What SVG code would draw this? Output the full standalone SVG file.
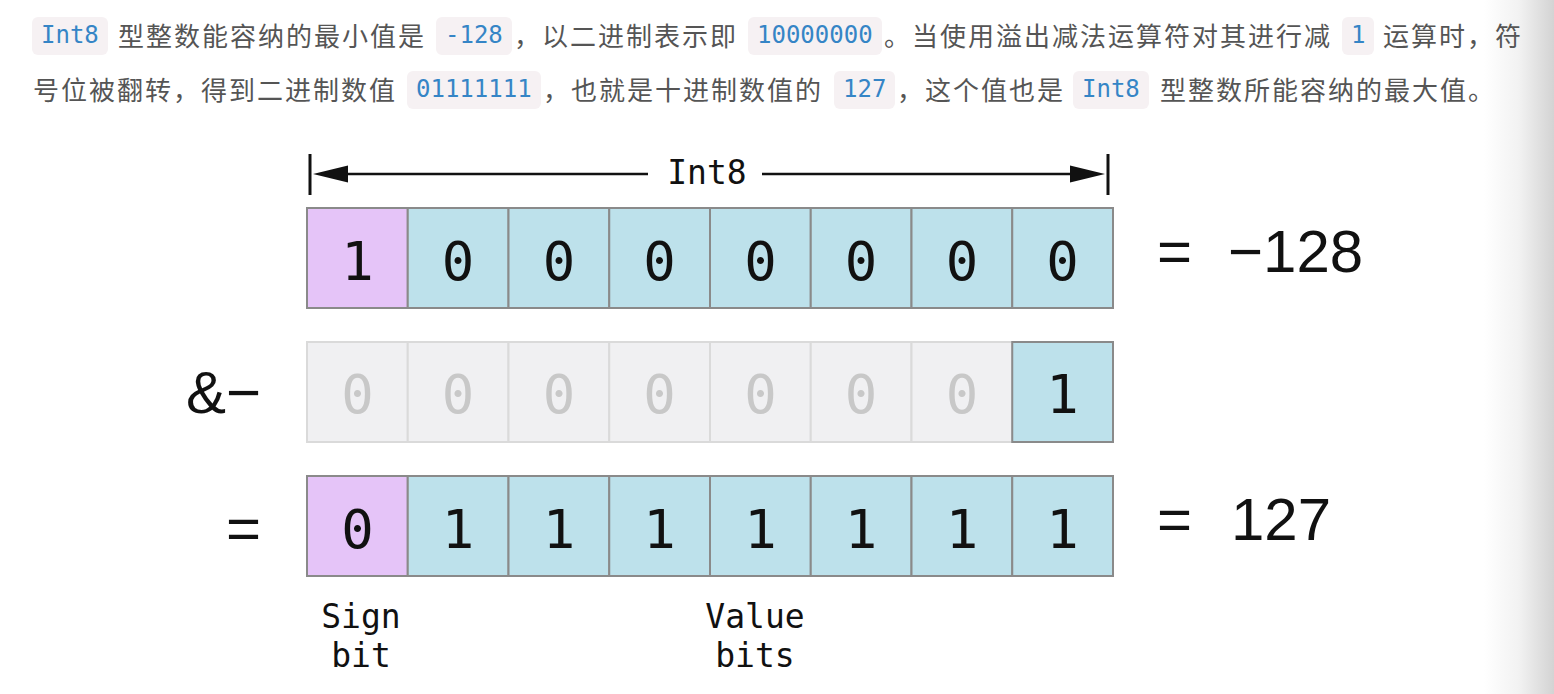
<svg xmlns="http://www.w3.org/2000/svg" width="1554" height="694" viewBox="0 0 1554 694">
<defs>
<style>
.cn{font-family:"Noto Sans CJK SC","Noto Sans",sans-serif;font-size:26px;letter-spacing:2px;fill:#555555}
.pill{fill:#f6f1f3}
.code{font-family:"DejaVu Sans Mono",monospace;font-size:24px;fill:#3585c6}
.mono{font-family:"DejaVu Sans Mono",monospace;fill:#111}
.dig{font-family:"DejaVu Sans Mono",monospace;font-size:54px;text-anchor:middle;fill:#111}
.dig.g{fill:#c8c8c8}
.sans{font-family:"Liberation Sans","Arial",sans-serif;font-size:60px;fill:#111}
.sb{fill:#e5c4f8;stroke:#8a8a8a;stroke-width:2}
.vb{fill:#bde1eb;stroke:#8a8a8a;stroke-width:2}
.gb{fill:#f0f0f2;stroke:#dadada;stroke-width:2}
.lbl{font-family:"DejaVu Sans Mono",monospace;font-size:33px;text-anchor:middle;fill:#111}
</style>
<linearGradient id="edge" x1="0" y1="0" x2="1" y2="0">
<stop offset="0" stop-color="#ffffff"/>
<stop offset="0.5" stop-color="#f2f2f2"/>
<stop offset="1" stop-color="#d3d3d3"/>
</linearGradient>
</defs>
<rect x="0" y="0" width="1554" height="694" fill="#ffffff"/>
<rect x="1484" y="0" width="70" height="694" fill="url(#edge)"/>

<g id="paragraph">
<rect class="pill" x="32" y="17" width="76" height="38" rx="6"/>
<text class="code" x="41" y="43">Int8</text>
<text class="cn" x="118" y="46">型整数能容纳的最小值是</text>
<rect class="pill" x="436" y="17" width="76" height="38" rx="6"/>
<text class="code" x="445" y="43">-128</text>
<text class="cn" x="514" y="46">，以二进制表示即</text>
<rect class="pill" x="748" y="17" width="134" height="38" rx="6"/>
<text class="code" x="757" y="43">10000000</text>
<text class="cn" x="884" y="46">。当使用溢出减法运算符对其进行减</text>
<rect class="pill" x="1342" y="17" width="32" height="38" rx="6"/>
<text class="code" x="1351" y="43">1</text>
<text class="cn" x="1383" y="46">运算时，符</text>

<text class="cn" x="33" y="100">号位被翻转，得到二进制数值</text>
<rect class="pill" x="407" y="71" width="134" height="38" rx="6"/>
<text class="code" x="416" y="97">01111111</text>
<text class="cn" x="543" y="100">，也就是十进制数值的</text>
<rect class="pill" x="834" y="71" width="61" height="38" rx="6"/>
<text class="code" x="843" y="97">127</text>
<text class="cn" x="897" y="100">，这个值也是</text>
<rect class="pill" x="1073" y="71" width="76" height="38" rx="6"/>
<text class="code" x="1082" y="97">Int8</text>
<text class="cn" x="1160" y="100">型整数所能容纳的最大值。</text>
</g>

<g id="connectors" stroke="#111" stroke-width="2.5" fill="none">
<line x1="310" y1="154" x2="310" y2="195" stroke-width="3"/>
<line x1="1108" y1="154" x2="1108" y2="195" stroke-width="3"/>
<line x1="340" y1="174" x2="648" y2="174"/>
<line x1="762" y1="174" x2="1075" y2="174"/>
<polygon points="313,174 348,165.5 348,182.5" fill="#111" stroke="none"/>
<polygon points="1105,174 1070,165.5 1070,182.5" fill="#111" stroke="none"/>
</g>
<g id="int8-label">
<text class="mono" x="707" y="184" font-size="33" text-anchor="middle">Int8</text>
</g>

<g id="row-minus128">
<rect class="sb" x="307" y="208" width="100.75" height="100"/>
<rect class="vb" x="407.75" y="208" width="100.75" height="100"/>
<rect class="vb" x="508.5" y="208" width="100.75" height="100"/>
<rect class="vb" x="609.25" y="208" width="100.75" height="100"/>
<rect class="vb" x="710" y="208" width="100.75" height="100"/>
<rect class="vb" x="810.75" y="208" width="100.75" height="100"/>
<rect class="vb" x="911.5" y="208" width="100.75" height="100"/>
<rect class="vb" x="1012.25" y="208" width="100.75" height="100"/>
<text class="dig" x="357.4" y="280">1</text>
<text class="dig" x="458.1" y="280">0</text>
<text class="dig" x="558.9" y="280">0</text>
<text class="dig" x="659.6" y="280">0</text>
<text class="dig" x="760.4" y="280">0</text>
<text class="dig" x="861.1" y="280">0</text>
<text class="dig" x="961.9" y="280">0</text>
<text class="dig" x="1062.6" y="280">0</text>
<text class="sans" x="1157" y="272">=</text>
<text class="sans" x="1228" y="272">−128</text>
</g>

<g id="row-one">
<text class="sans" x="186" y="413">&amp;−</text>
<rect class="gb" x="307" y="342" width="100.75" height="100"/>
<rect class="gb" x="407.75" y="342" width="100.75" height="100"/>
<rect class="gb" x="508.5" y="342" width="100.75" height="100"/>
<rect class="gb" x="609.25" y="342" width="100.75" height="100"/>
<rect class="gb" x="710" y="342" width="100.75" height="100"/>
<rect class="gb" x="810.75" y="342" width="100.75" height="100"/>
<rect class="gb" x="911.5" y="342" width="100.75" height="100"/>
<rect class="vb" x="1012.25" y="342" width="100.75" height="100"/>
<text class="dig g" x="357.4" y="413">0</text>
<text class="dig g" x="458.1" y="413">0</text>
<text class="dig g" x="558.9" y="413">0</text>
<text class="dig g" x="659.6" y="413">0</text>
<text class="dig g" x="760.4" y="413">0</text>
<text class="dig g" x="861.1" y="413">0</text>
<text class="dig g" x="961.9" y="413">0</text>
<text class="dig" x="1062.6" y="413">1</text>
</g>

<g id="row-127">
<text class="sans" x="226" y="549">=</text>
<rect class="sb" x="307" y="476" width="100.75" height="100"/>
<rect class="vb" x="407.75" y="476" width="100.75" height="100"/>
<rect class="vb" x="508.5" y="476" width="100.75" height="100"/>
<rect class="vb" x="609.25" y="476" width="100.75" height="100"/>
<rect class="vb" x="710" y="476" width="100.75" height="100"/>
<rect class="vb" x="810.75" y="476" width="100.75" height="100"/>
<rect class="vb" x="911.5" y="476" width="100.75" height="100"/>
<rect class="vb" x="1012.25" y="476" width="100.75" height="100"/>
<text class="dig" x="357.4" y="548">0</text>
<text class="dig" x="458.1" y="548">1</text>
<text class="dig" x="558.9" y="548">1</text>
<text class="dig" x="659.6" y="548">1</text>
<text class="dig" x="760.4" y="548">1</text>
<text class="dig" x="861.1" y="548">1</text>
<text class="dig" x="961.9" y="548">1</text>
<text class="dig" x="1062.6" y="548">1</text>
<text class="sans" x="1157" y="540">=</text>
<text class="sans" x="1231" y="540">127</text>
</g>

<g id="sign-label">
<text class="lbl" x="361" y="628">Sign</text>
<text class="lbl" x="361" y="667">bit</text>
</g>
<g id="value-label">
<text class="lbl" x="755" y="628">Value</text>
<text class="lbl" x="755" y="667">bits</text>
</g>
</svg>
